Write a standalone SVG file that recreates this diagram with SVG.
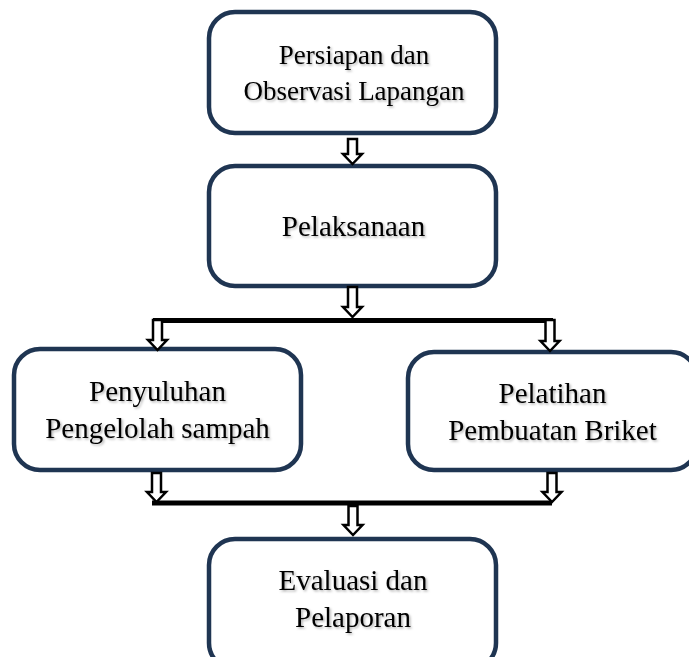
<svg xmlns="http://www.w3.org/2000/svg" width="689" height="657" viewBox="0 0 689 657">
<defs>
<style>
.box{fill:#fff;stroke:#1f3552;stroke-width:4.5}
.t{font-family:"Liberation Serif","Times New Roman",serif;font-size:29px;fill:#000;text-anchor:middle;filter:url(#sh)}
.s{font-size:27px}
.arr{fill:#fff;stroke:#000;stroke-width:2.5;stroke-linejoin:miter}
.bar{stroke:#000;stroke-width:5;fill:none}
</style>
<filter id="sh" x="-10%" y="-30%" width="120%" height="160%">
<feDropShadow dx="1.5" dy="1.5" stdDeviation="0.8" flood-color="#000" flood-opacity="0.3"/>
</filter>
</defs>
<rect width="689" height="657" fill="#fff"/>
<g id="n1"><rect class="box" x="209" y="12" width="287" height="121" rx="26"/>
<text class="t s" x="354" y="64">Persiapan dan</text><text class="t s" x="354" y="100">Observasi Lapangan</text></g>
<g id="n2"><rect class="box" x="209" y="166" width="287" height="120" rx="26"/>
<text class="t" x="353.5" y="236">Pelaksanaan</text></g>
<g id="n3"><rect class="box" x="14" y="349" width="287" height="121" rx="26"/>
<text class="t" x="157.5" y="401">Penyuluhan</text><text class="t" x="157.5" y="438">Pengelolah sampah</text></g>
<g id="n4"><rect class="box" x="408" y="352" width="289" height="118" rx="26"/>
<text class="t" x="552.5" y="403">Pelatihan</text><text class="t" x="552.5" y="440">Pembuatan Briket</text></g>
<g id="n5"><rect class="box" x="209" y="539" width="287" height="130" rx="26"/>
<text class="t" x="353" y="590">Evaluasi dan</text><text class="t" x="353" y="627">Pelaporan</text></g>
<g id="connectors">
<line class="bar" x1="153" y1="320.5" x2="553" y2="320.5"/>
<line class="bar" x1="152" y1="503" x2="552" y2="503"/>
<polygon class="arr" points="348,139 357,139 357,154 362,154 352.5,164 343,154 348,154"/>
<polygon class="arr" points="348,287 357,287 357,307 362,307 352.5,317 343,307 348,307"/>
<polygon class="arr" points="153,320 162,320 162,340 167,340 157.5,350 148,340 153,340"/>
<polygon class="arr" points="545.5,320 554.5,320 554.5,341 559.5,341 550,351 540.5,341 545.5,341"/>
<polygon class="arr" points="152,473 161,473 161,492 166,492 156.5,502 147,492 152,492"/>
<polygon class="arr" points="547.5,473 556.5,473 556.5,492 561.5,492 552,502 542.5,492 547.5,492"/>
<polygon class="arr" points="348.5,506 357.5,506 357.5,525 362.5,525 353,535 343.5,525 348.5,525"/>
</g>
</svg>
